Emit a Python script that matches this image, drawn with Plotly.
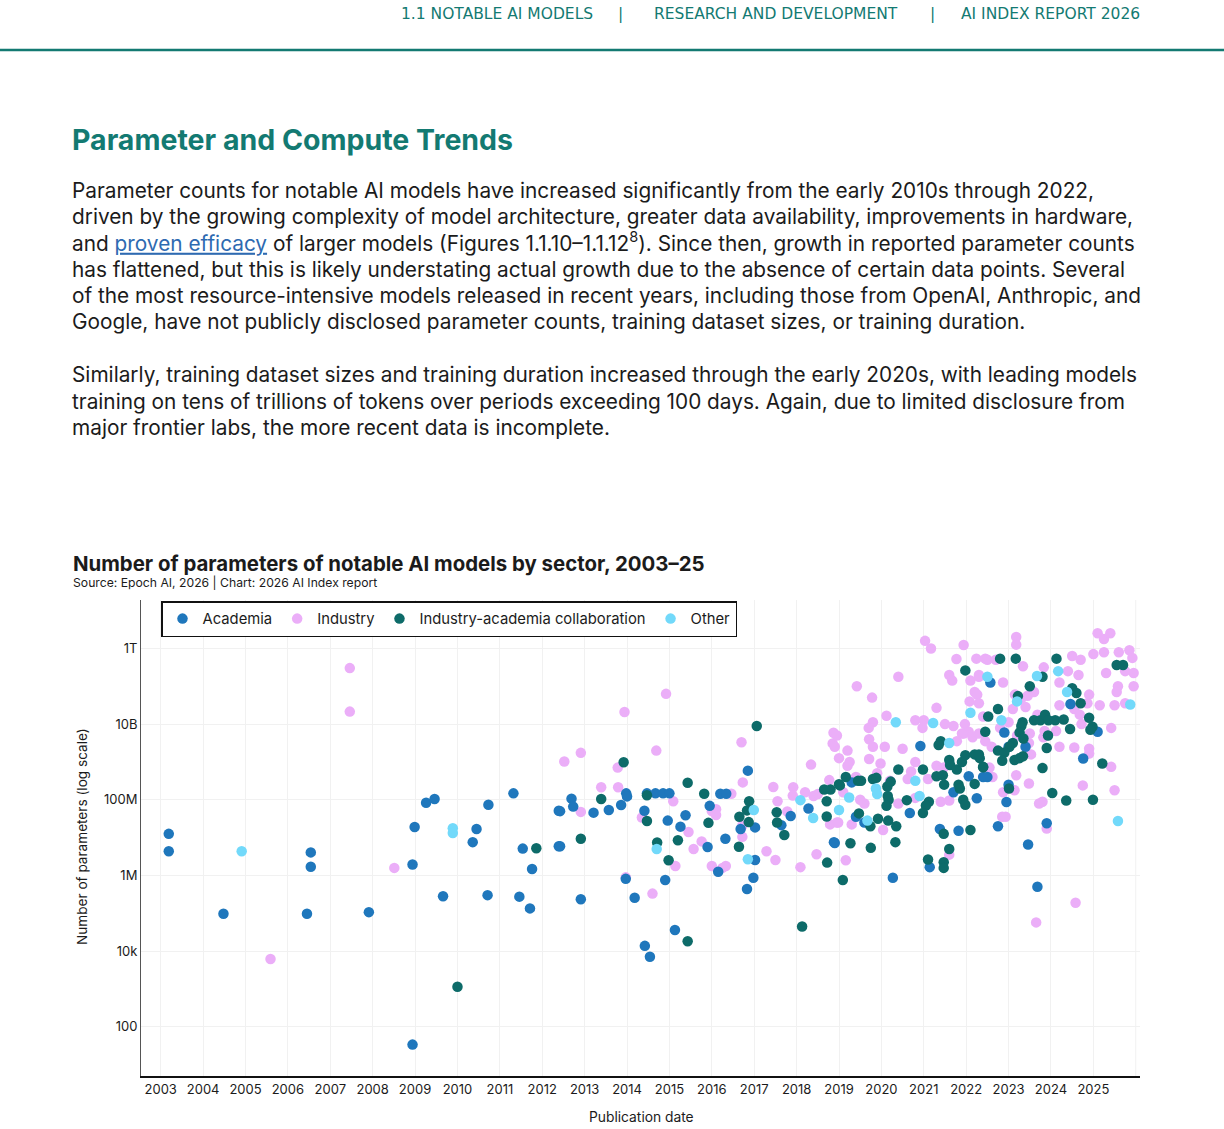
import numpy as np
import plotly.graph_objects as go

# ---- data: publication date (decimal year) and log10(number of parameters) ----
academia_year = [
    2003.19, 2003.19, 2004.48, 2006.54, 2006.54, 2006.45, 2007.91, 2008.94, 2008.99, 2009.26,
    2009.46, 2009.66, 2010.45, 2010.36, 2010.73, 2010.71, 2008.94, 2011.32, 2011.54, 2011.76,
    2011.46, 2011.71, 2012.39, 2012.39, 2012.69, 2012.73, 2012.42, 2013.21, 2013.57, 2013.86,
    2013.98, 2014.00, 2014.47, 2014.41, 2014.67, 2014.85, 2015.00, 2014.96, 2015.38, 2015.26,
    2015.95, 2016.20, 2016.34, 2016.85, 2017.02, 2016.68, 2017.86, 2017.64, 2018.28, 2018.88,
    2012.42, 2012.91, 2013.97, 2014.18, 2014.90, 2015.13, 2014.42, 2014.54, 2015.90, 2016.32,
    2016.15, 2017.02, 2016.98, 2016.83, 2020.92, 2022.06, 2021.70, 2022.25, 2022.40, 2020.67,
    2019.60, 2019.40, 2021.38, 2021.82, 2021.14, 2020.27, 2018.90, 2019.30, 2022.57, 2024.46,
    2022.90, 2023.00, 2023.40, 2024.76, 2022.50, 2022.95, 2022.75, 2023.90, 2023.46, 2023.68,
    2025.10, 2023.00,
]
academia_log10 = [
    7.10, 6.64, 4.99, 6.61, 6.23, 4.99, 5.03, 6.29, 7.28, 7.92,
    8.02, 5.45, 7.23, 6.88, 7.87, 5.48, 1.53, 8.17, 6.71, 6.17,
    5.44, 5.13, 7.71, 6.77, 8.03, 7.82, 7.70, 7.66, 7.73, 7.86,
    8.17, 8.09, 8.17, 7.71, 8.17, 8.17, 8.17, 7.45, 7.59, 7.29,
    7.84, 8.16, 8.16, 8.77, 7.27, 7.23, 7.57, 7.33, 7.77, 6.88,
    6.77, 5.37, 5.91, 5.41, 5.88, 4.56, 4.14, 3.85, 6.75, 6.97,
    6.10, 6.41, 5.94, 5.64, 9.42, 8.62, 8.20, 8.04, 8.60, 7.65,
    7.40, 7.55, 7.23, 7.18, 6.22, 5.94, 6.86, 8.46, 11.10, 10.53,
    9.78, 9.40, 9.40, 9.09, 8.60, 7.94, 7.30, 7.38, 6.82, 5.70,
    9.80, 8.40,
]

industry_year = [
    2007.46, 2007.46, 2005.59, 2008.51, 2014.92, 2013.94, 2016.70, 2018.85, 2018.87, 2014.69,
    2012.52, 2012.91, 2013.78, 2018.34, 2016.73, 2013.39, 2013.79, 2016.46, 2017.45, 2017.92,
    2017.91, 2018.20, 2018.40, 2018.50, 2018.77, 2012.91, 2014.35, 2015.09, 2015.45, 2016.00,
    2016.10, 2016.10, 2016.72, 2016.72, 2017.78, 2017.55, 2018.79, 2018.95, 2018.47, 2018.09,
    2015.14, 2013.97, 2014.60, 2015.57, 2015.76, 2016.00, 2016.25, 2016.33, 2017.29, 2017.50,
    2021.03, 2021.17, 2021.94, 2021.77, 2022.24, 2022.45, 2021.60, 2021.67, 2022.10, 2022.30,
    2020.40, 2019.42, 2019.78, 2021.30, 2020.12, 2019.80, 2019.70, 2020.80, 2021.00, 2020.97,
    2021.50, 2021.70, 2022.08, 2022.20, 2022.26, 2021.97, 2022.06, 2021.94, 2018.95, 2018.90,
    2019.71, 2019.80, 2020.08, 2020.50, 2019.20, 2019.00, 2019.25, 2019.20, 2019.71, 2019.98,
    2020.80, 2020.62, 2021.30, 2021.47, 2021.78, 2021.90, 2022.15, 2022.45, 2019.16, 2021.60,
    2020.04, 2019.30, 2018.98, 2019.60, 2019.50, 2020.40, 2020.80, 2021.40, 2021.60, 2019.40,
    2019.90, 2020.20, 2020.70, 2021.10, 2019.10, 2025.10, 2025.25, 2025.40, 2023.18, 2023.18,
    2023.34, 2023.83, 2024.50, 2024.70, 2025.00, 2025.25, 2025.60, 2025.85, 2025.92, 2025.75,
    2025.95, 2024.40, 2024.65, 2025.30, 2025.58, 2025.55, 2025.95, 2024.20, 2022.87, 2022.50,
    2022.70, 2023.60, 2023.45, 2023.30, 2023.15, 2024.90, 2024.86, 2025.15, 2025.50, 2025.75,
    2023.10, 2023.40, 2023.68, 2024.20, 2024.55, 2024.68, 2023.85, 2024.12, 2023.50, 2023.42,
    2023.82, 2024.72, 2025.42, 2024.20, 2024.55, 2024.90, 2024.90, 2023.53, 2023.48, 2025.42,
    2024.75, 2025.50, 2023.48, 2023.80, 2023.72, 2022.85, 2022.93, 2023.90, 2024.58, 2023.65,
    2022.30, 2022.30, 2022.30, 2022.55, 2022.62, 2022.87, 2023.18, 2023.14, 2022.40, 2022.60,
    2022.80, 2023.00, 2023.20,
]
industry_log10 = [
    11.48, 10.33, 3.79, 6.20, 10.80, 10.32, 9.52, 9.49, 9.77, 9.30,
    9.01, 9.24, 8.85, 8.93, 8.46, 8.33, 8.33, 8.16, 8.34, 8.33,
    8.11, 8.20, 8.10, 8.15, 8.52, 7.68, 7.53, 7.96, 7.15, 7.70,
    7.75, 7.60, 7.32, 7.02, 7.69, 7.96, 7.35, 7.40, 6.56, 6.22,
    6.25, 5.95, 5.52, 6.70, 6.90, 6.25, 6.20, 6.25, 6.64, 6.41,
    12.20, 12.00, 12.09, 11.72, 11.73, 11.73, 11.30, 11.15, 11.15, 11.25,
    11.25, 11.00, 10.70, 10.43, 10.22, 10.05, 9.90, 10.10, 10.10, 9.90,
    10.00, 9.95, 10.60, 10.85, 10.78, 10.00, 9.80, 9.75, 9.70, 9.40,
    9.60, 9.40, 9.40, 9.35, 9.30, 9.10, 9.00, 8.90, 9.08, 8.96,
    9.00, 8.55, 8.90, 8.85, 9.55, 9.75, 9.65, 9.55, 6.40, 6.55,
    7.20, 7.35, 7.40, 7.90, 8.00, 7.90, 8.05, 7.95, 7.98, 8.60,
    8.70, 8.50, 8.75, 8.55, 8.20, 12.40, 12.25, 12.40, 12.30, 12.10,
    11.53, 11.50, 11.80, 11.70, 11.85, 11.90, 11.90, 11.95, 11.75, 11.40,
    11.35, 11.40, 11.30, 11.35, 11.00, 10.85, 11.00, 11.10, 11.10, 11.70,
    11.70, 10.85, 10.75, 10.68, 10.78, 10.78, 10.55, 10.50, 10.50, 10.55,
    10.40, 10.45, 10.25, 10.50, 10.40, 10.25, 9.82, 9.82, 9.75, 9.50,
    9.65, 10.00, 9.90, 9.40, 9.38, 9.35, 9.22, 9.20, 9.50, 8.87,
    8.38, 8.25, 8.43, 7.95, 7.90, 7.55, 7.55, 7.24, 5.28, 4.76,
    11.30, 10.55, 9.75, 8.85, 8.60, 8.20, 8.65, 8.25, 10.20, 9.40,
    9.90, 10.05, 9.70,
]

collab_year = [
    2010.00, 2011.86, 2017.06, 2013.92, 2015.43, 2014.47, 2015.82, 2018.65, 2018.80, 2019.00,
    2013.39, 2014.47, 2015.92, 2016.88, 2016.83, 2016.65, 2016.87, 2017.53, 2017.54, 2017.71,
    2018.71, 2018.71, 2018.72, 2018.13, 2012.91, 2014.71, 2014.98, 2015.43, 2015.20, 2016.64,
    2021.98, 2021.40, 2021.35, 2021.60, 2021.62, 2021.78, 2021.90, 2021.98, 2022.20, 2022.32,
    2022.40, 2022.20, 2021.82, 2021.85, 2021.93, 2021.98, 2020.98, 2020.40, 2019.16, 2019.02,
    2019.45, 2019.52, 2019.80, 2019.88, 2020.14, 2020.22, 2020.15, 2020.17, 2020.12, 2020.60,
    2021.12, 2021.05, 2020.98, 2019.47, 2019.74, 2019.92, 2020.16, 2020.35, 2019.27, 2019.75,
    2020.33, 2021.47, 2022.10, 2021.60, 2021.10, 2021.47, 2021.47, 2019.09, 2021.30, 2021.45,
    2021.48, 2022.80, 2023.17, 2024.13, 2023.80, 2023.50, 2024.50, 2024.60, 2024.70, 2025.55,
    2025.70, 2023.22, 2022.75, 2022.52, 2022.45, 2023.33, 2023.30, 2023.26, 2023.60, 2023.75,
    2023.86, 2023.94, 2024.10, 2024.30, 2024.90, 2024.98, 2024.93, 2024.45, 2023.93, 2023.90,
    2023.35, 2023.10, 2023.02, 2022.75, 2022.90, 2022.85, 2023.14, 2023.26, 2023.34, 2022.40,
    2022.30, 2023.01, 2023.80, 2025.21, 2024.03, 2024.36, 2024.99,
]
collab_log10 = [
    3.06, 6.72, 9.95, 8.99, 8.45, 8.12, 8.16, 8.27, 8.27, 8.41,
    8.02, 7.44, 7.39, 7.96, 7.72, 7.55, 7.41, 7.67, 7.40, 7.07,
    7.96, 7.56, 6.34, 4.65, 6.97, 6.87, 6.40, 4.26, 6.93, 6.76,
    11.42, 9.55, 9.45, 9.05, 8.92, 8.80, 9.00, 9.18, 9.20, 9.10,
    8.86, 8.42, 8.40, 8.30, 8.00, 7.87, 8.80, 8.80, 8.60, 8.38,
    8.50, 8.50, 8.55, 8.58, 8.35, 8.48, 8.10, 8.00, 7.84, 7.99,
    7.95, 7.85, 7.65, 7.64, 7.30, 7.50, 7.45, 7.30, 6.85, 6.73,
    6.88, 7.10, 7.20, 6.70, 6.42, 6.35, 6.20, 5.88, 8.62, 8.65,
    8.40, 11.73, 11.73, 11.73, 11.25, 11.00, 10.95, 10.82, 10.55, 11.56,
    11.56, 10.74, 10.40, 10.20, 9.80, 10.05, 9.95, 9.78, 10.10, 10.10,
    10.25, 10.10, 10.10, 10.12, 10.17, 9.93, 9.85, 9.87, 9.70, 9.37,
    9.62, 9.50, 9.40, 9.30, 9.25, 9.03, 9.05, 9.10, 9.15, 8.87,
    9.20, 8.30, 8.84, 8.96, 8.18, 7.98, 8.00,
]

other_year = [
    2004.91, 2009.89, 2009.89, 2014.70, 2016.99, 2016.85, 2018.09, 2018.39, 2020.34, 2021.22,
    2021.60, 2022.10, 2022.50, 2019.87, 2019.90, 2020.80, 2020.90, 2019.24, 2019.00, 2019.67,
    2023.67, 2024.17, 2024.38, 2023.20, 2022.83, 2025.87, 2025.58,
]
other_log10 = [
    6.64, 7.25, 7.12, 6.70, 7.73, 6.43, 7.99, 7.52, 10.05, 10.03,
    9.50, 10.30, 11.25, 8.30, 8.15, 8.50, 8.10, 8.06, 7.73, 7.45,
    11.27, 11.40, 10.85, 10.60, 10.10, 10.52, 7.44,
]

years = list(range(2003, 2026))
year_labels = [str(y) for y in years]
ytick_vals = [1e2, 1e4, 1e6, 1e8, 1e10, 1e12]
ytick_text = ["100", "10k", "1M", "100M", "10B", "1T"]

COLOR_ACADEMIA = "#1F77BC"
COLOR_INDUSTRY = "#EBAEF8"
COLOR_COLLAB = "#0D6B69"
COLOR_OTHER = "#72D9FA"
TEAL = "#137A72"
TEXT = "#1B1B1B"
GRID = "#F1F1F1"
FONT = "Inter, Lato, sans-serif"

# plot area in page pixels
L, R, T, B = 141, 1140, 600, 1076


def px_x(px):
    return (px - L) / (R - L)


def px_y(py):
    return (B - py) / (B - T)


fig = go.Figure()
series = [
    ("Industry", industry_year, industry_log10, COLOR_INDUSTRY, 2),
    ("Academia", academia_year, academia_log10, COLOR_ACADEMIA, 1),
    ("Industry-academia collaboration", collab_year, collab_log10, COLOR_COLLAB, 3),
    ("Other", other_year, other_log10, COLOR_OTHER, 4),
]
for name, xs, logs, color, rank in series:
    fig.add_trace(go.Scatter(
        x=xs, y=10 ** np.array(logs), mode="markers", name=name, legendrank=rank,
        marker=dict(color=color, size=10.5, line=dict(width=0)),
    ))

ann = []


def text(px, py, s, size, color=TEXT, bold=False, xanchor="left", angle=0, family=FONT):
    # annotations pad their text by ~2px, take that back for left-aligned lines
    shift = -2 if xanchor == "left" else 0
    ann.append(dict(
        x=px_x(px + shift), y=px_y(py), xref="paper", yref="paper", text=s, showarrow=False,
        xanchor=xanchor, yanchor="middle", textangle=angle,
        font=dict(family=family, size=size, color=color, weight=700 if bold else 400),
    ))


# running header, split so its pieces sit where the reference puts them
HEAD_FONT = "DejaVu Sans, sans-serif"
text(497, 14, "1.1 NOTABLE AI MODELS", 15.5, color=TEAL, xanchor="center", family=HEAD_FONT)
text(620, 14, "|", 15.5, color=TEAL, xanchor="center", family=HEAD_FONT)
text(776, 14, "RESEARCH AND DEVELOPMENT", 15.5, color=TEAL, xanchor="center", family=HEAD_FONT)
text(932, 14, "|", 15.5, color=TEAL, xanchor="center", family=HEAD_FONT)
text(1050, 14, "AI INDEX REPORT 2026", 15.5, color=TEAL, xanchor="center", family=HEAD_FONT)

text(72, 139, "Parameter and Compute Trends", 28.5, color=TEAL, bold=True)

body = [
    (190, "Parameter counts for notable AI models have increased significantly from the early 2010s through 2022,"),
    (216, "driven by the growing complexity of model architecture, greater data availability, improvements in hardware,"),
    (242, "and <span style='color:#2E6AB1'><u>proven efficacy</u></span> of larger models (Figures 1.1.10–1.1.12<sup>8</sup>). "
          "Since then, growth in reported parameter counts"),
    (269, "has flattened, but this is likely understating actual growth due to the absence of certain data points. Several"),
    (295, "of the most resource-intensive models released in recent years, including those from OpenAI, Anthropic, and"),
    (321, "Google, have not publicly disclosed parameter counts, training dataset sizes, or training duration."),
    (375, "Similarly, training dataset sizes and training duration increased through the early 2020s, with leading models"),
    (401, "training on tens of trillions of tokens over periods exceeding 100 days. Again, due to limited disclosure from"),
    (427, "major frontier labs, the more recent data is incomplete."),
]
for py, line in body:
    text(72, py, line, 20.8)

text(73, 563, "Number of parameters of notable AI models by sector, 2003–25", 20.4, bold=True)
text(73, 582, "Source: Epoch AI, 2026 | Chart: 2026 AI Index report", 12.2)
text(82, 837, "Number of parameters (log scale)", 13.6, angle=-90, xanchor="center")
text(641, 1117, "Publication date", 13.8, xanchor="center")

fig.update_layout(
    width=1224, height=1129,
    margin=dict(l=L, r=1224 - R, t=T, b=1129 - B),
    paper_bgcolor="white", plot_bgcolor="white",
    font=dict(family=FONT, color=TEXT, size=13),
    annotations=ann,
    shapes=[
        dict(type="line", xref="paper", yref="paper", x0=px_x(0), x1=px_x(1224),
             y0=px_y(50), y1=px_y(50), line=dict(color=TEAL, width=2.5)),
        # last vertical gridline (2026) has no label
        dict(type="line", xref="x", yref="paper", x0=2026, x1=2026, y0=0, y1=1,
             layer="below", line=dict(color=GRID, width=1)),
    ],
    legend=dict(orientation="h", x=px_x(161), y=px_y(601), xanchor="left", yanchor="top",
                bgcolor="white", bordercolor="#111111", borderwidth=1.5,
                font=dict(size=14.8, color=TEXT)),
    showlegend=True,
)
fig.update_xaxes(
    range=[2002.535, 2026.1], tickvals=years, ticktext=year_labels,
    showgrid=True, gridcolor=GRID, gridwidth=1, zeroline=False,
    showline=True, linecolor="#111111", linewidth=2, ticks="",
    tickfont=dict(size=13, color=TEXT),
)
fig.update_yaxes(
    type="log", range=[0.70, 13.28], tickvals=ytick_vals, ticktext=ytick_text,
    showgrid=True, gridcolor=GRID, gridwidth=1, zeroline=False,
    showline=True, linecolor="#555555", linewidth=1, ticks="",
    tickfont=dict(size=13, color=TEXT),
)

# the page's default body margin would shift the whole figure by 8px
fig.write_html("out.html", config={"displayModeBar": False},
               post_script="document.body.style.margin='0px';")
